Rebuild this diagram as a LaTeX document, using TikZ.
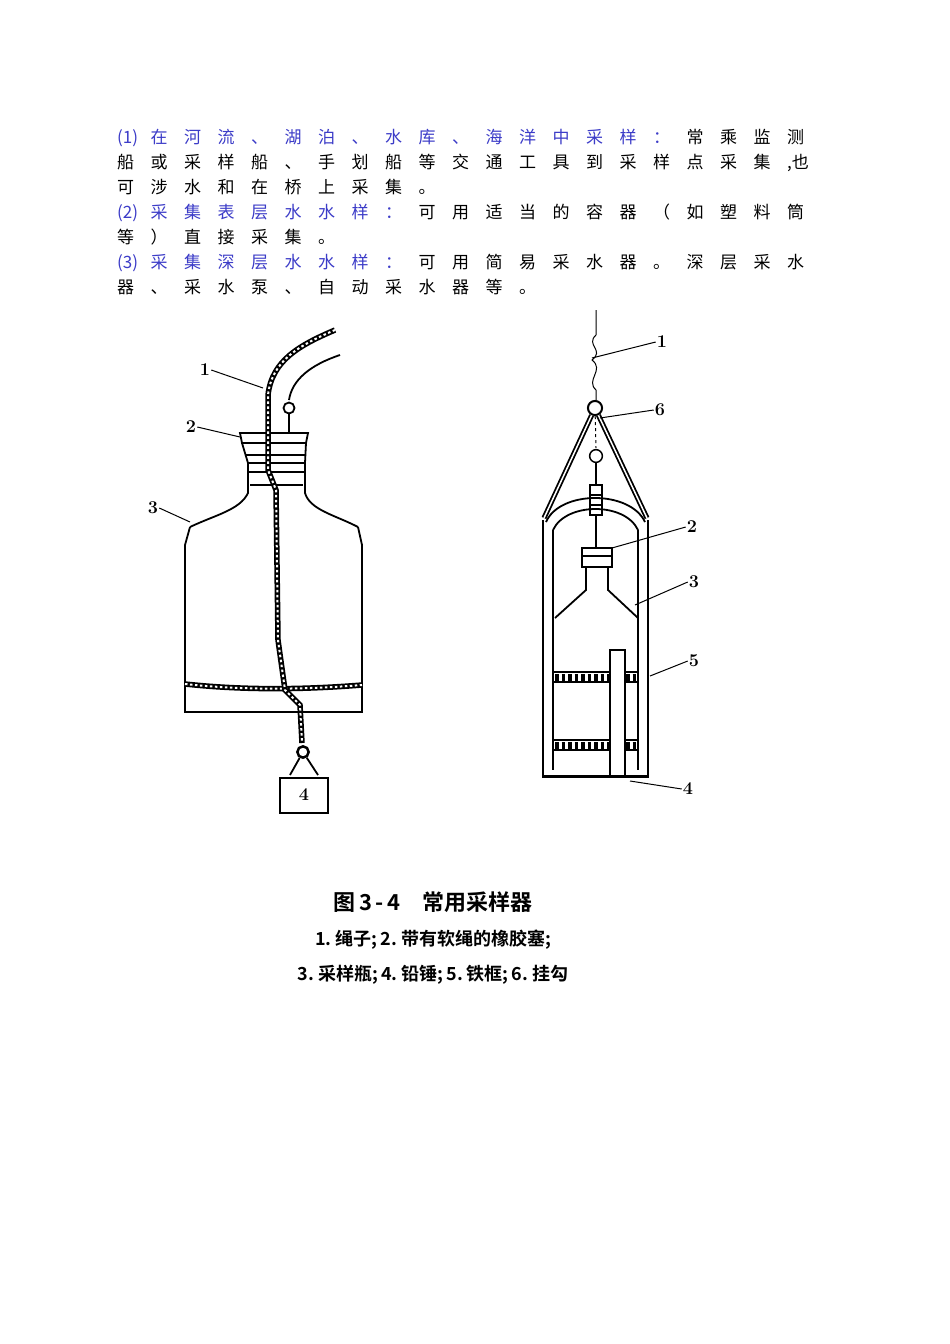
\documentclass[tikz,border=0pt]{standalone}
\usepackage{fontspec}
\newfontfamily\cjk{Noto Sans CJK SC}
\newfontfamily\cjkb{Noto Sans CJK SC Bold}
\definecolor{hblue}{RGB}{60,60,200}
\def\spcx#1{\spcaux#1\relax}
\def\spcaux#1{\ifx#1\relax\else\makebox[33.5pt][l]{#1}\expandafter\spcaux\fi}
\tikzset{ln/.style={line width=1.8pt},thin1/.style={line width=1pt},
rope/.style={line width=5.5pt,black,postaction={draw=white,line width=2pt,dash pattern=on 2.5pt off 2.5pt}},
lbl/.style={font=\fontsize{18}{18}\selectfont\bfseries,inner sep=1pt},
txt/.style={anchor=base west,inner sep=0pt,font=\cjk\fontsize{17}{17}\selectfont}}
\begin{document}
\begin{tikzpicture}[x=1pt,y=-1pt]
\useasboundingbox[fill=white] (0,0) rectangle (950,1344);
% text
\node[txt] (t1) at (117,143) {\color{hblue}\makebox[33.5pt][l]{(1)}\spcx{在河流、湖泊、水库、海洋中采样：}\color{black}\spcx{常乘监测}};
\node[txt] (t2) at (117,168) {\spcx{船或采样船、手划船等交通工具到采样点采集}\makebox[33.5pt][l]{,也}};
\node[txt] (t3) at (117,193) {\spcx{可涉水和在桥上采集。}};
\node[txt] (t4) at (117,218) {\color{hblue}\makebox[33.5pt][l]{(2)}\spcx{采集表层水水样：}\color{black}\spcx{可用适当的容器（如塑料筒}};
\node[txt] (t5) at (117,243) {\spcx{等）直接采集。}};
\node[txt] (t6) at (117,268) {\color{hblue}\makebox[33.5pt][l]{(3)}\spcx{采集深层水水样：}\color{black}\spcx{可用简易采水器。深层采水}};
\node[txt] (t7) at (117,293) {\spcx{器、采水泵、自动采水器等。}};
% left bottle
\draw[ln] (190,527) .. controls (215,515) and (240,510) .. (248,493) -- (248,463);
\draw[ln] (358,527) .. controls (335,515) and (310,510) .. (305,493) -- (305,463);
\draw[ln] (190,527) -- (185,545) -- (185,712) -- (362,712) -- (362,545) -- (358,527);
\draw[ln] (240,433) -- (308,433) -- (306,443) -- (242,443) -- cycle;
\draw[ln] (242,443) -- (248,463) (306,443) -- (305,463);
\draw[ln] (246,455) -- (306,455) (248,463) -- (305,463) (248,472) -- (305,472) (250,485) -- (303,485);
\draw[rope] (185,684) .. controls (240,690) and (300,690) .. (362,685);
\draw[ln] (340,355) .. controls (310,365) and (292,380) .. (289,400);
\draw[ln] (289,408) circle (5.5);
\draw[ln] (289,414) -- (289,433);
\draw[rope] (335,330) .. controls (300,345) and (272,360) .. (268,395) -- (268,470) -- (276,490) -- (278,640) -- (285,690) -- (300,705) -- (302,743);
\node[circle,draw,line width=2.5pt,inner sep=4pt] (knot) at (303,752) {};
\draw[ln] (knot) -- (290,775) (knot) -- (318,775);
\node[draw,line width=2pt,minimum width=48pt,minimum height=35pt,lbl] (w4) at (304,795) {4};
\node[lbl] (L1) at (205,370) {1};
\node[lbl] (L2) at (191,427) {2};
\node[lbl] (L3) at (153,508) {3};
\draw[thin1] (L1.east) -- (263,388);
\draw[thin1] (L2.east) -- (240,437);
\draw[thin1] (L3.east) -- (190,522);
% right sampler
\draw[thin1] (596,310) -- (596,335) .. controls (585,345) and (605,350) .. (592,360) .. controls (605,370) and (585,380) .. (596,390) -- (596,400);
\node[circle,draw,line width=2pt,inner sep=5pt] (hook) at (595,408) {};
\draw[ln,double,double distance=1.5pt] (hook) -- (544,518);
\draw[ln,double,double distance=1.5pt] (hook) -- (647,518);
\draw[thin1,dashed] (hook) -- (596,448);
\node[circle,draw,line width=1.5pt,inner sep=4.5pt] (ring2) at (596,456) {};
\draw[ln] (ring2) -- (596,485);
\draw[ln] (590,485) rectangle (602,515);
\draw[ln] (590,495) -- (602,495) (590,505) -- (602,505);
\draw[ln] (596,515) -- (596,548);
\draw[ln] (543,520) -- (543,777) -- (648,777) -- (648,520);
\draw[ln] (553,530) -- (553,770) (638,530) -- (638,770);
\draw[line width=3pt] (543,776) -- (648,776);
\draw[ln] (546,522) .. controls (560,490) and (630,490) .. (645,522);
\draw[ln] (553,530) .. controls (566,502) and (625,502) .. (638,530);
\draw[ln] (582,548) rectangle (612,567);
\draw[ln] (582,556) -- (612,556);
\draw[ln] (586,567) -- (586,590) -- (555,618);
\draw[ln] (608,567) -- (608,590) -- (638,618);
\draw[ln] (610,650) rectangle (625,776);
\foreach \yy in {672,740}{
 \draw[ln] (553,\yy) -- (610,\yy) (553,\yy+10) -- (610,\yy+10) (625,\yy) -- (638,\yy) (625,\yy+10) -- (638,\yy+10);
 \draw[line width=7pt,dash pattern=on 3.5pt off 3pt] (555,\yy+5) -- (610,\yy+5) (626,\yy+5) -- (638,\yy+5);
}
\node[lbl] (R1) at (662,342) {1};
\node[lbl] (R6) at (660,410) {6};
\node[lbl] (R2) at (692,527) {2};
\node[lbl] (R3) at (694,582) {3};
\node[lbl] (R5) at (694,661) {5};
\node[lbl] (R4) at (688,789) {4};
\draw[thin1] (R1.west) -- (592,358);
\draw[thin1] (R6.west) -- (600,418);
\draw[thin1] (R2.west) -- (612,548);
\draw[thin1] (R3.west) -- (635,605);
\draw[thin1] (R5.west) -- (650,676);
\draw[thin1] (R4.west) -- (630,781);
% caption
\node[font=\cjkb\fontsize{22}{22}\selectfont] (cap) at (433,902) {图\,3\,-\,4\quad 常用采样器};
\node[font=\cjkb\fontsize{18}{18}\selectfont] (c1) at (433,940) {1.\ 绳子;\,2.\ 带有软绳的橡胶塞;};
\node[font=\cjkb\fontsize{18}{18}\selectfont] (c2) at (433,975) {3.\ 采样瓶;\,4.\ 铅锤;\,5.\ 铁框;\,6.\ 挂勾};
\end{tikzpicture}
\end{document}
